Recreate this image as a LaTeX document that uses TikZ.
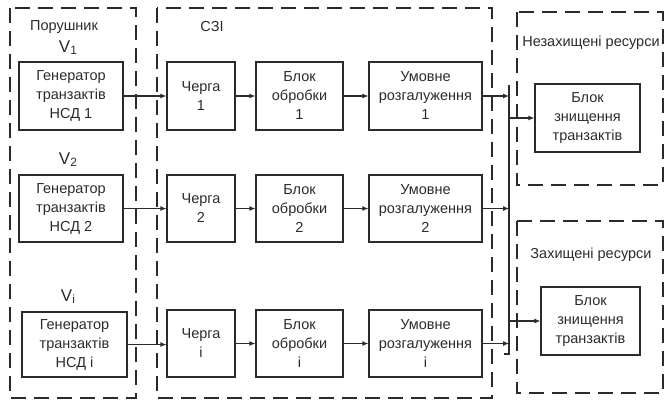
\documentclass[tikz,border=0pt]{standalone}
\usepackage{fontspec}
\setmainfont{Liberation Sans}
\usetikzlibrary{arrows.meta}
\definecolor{ink}{HTML}{2B2B2B}
\begin{document}
\begin{tikzpicture}[x=1pt,y=-1pt,
  every node/.style={font=\fontsize{14.5}{19}\selectfont, text=ink},
  blk/.style={draw=ink, line width=1.1pt, rectangle, align=center, inner sep=0pt},
  grp/.style={draw=ink, line width=1.1pt, dash pattern=on 15pt off 8pt},
  arr/.style={draw=ink, line width=1.1pt, -{Latex[length=6pt,width=5pt]}},
  ln/.style={draw=ink, line width=1.1pt},
  vlab/.style={font=\fontsize{17}{19}\selectfont}
]
\useasboundingbox (0,0) rectangle (667,400);
% group frames
\draw[grp] (10,8) rectangle (136,398);
\draw[grp] (157,8) rectangle (492,398);
\draw[grp] (517,12) rectangle (663,185);
\draw[grp] (517,221) rectangle (663,393);
% labels
\node (lp) at (64,27) {Порушник};
\node[vlab] (lv1) at (68,48) {V\raisebox{-0.2ex}{\fontsize{12}{12}\selectfont 1}};
\node[vlab] (lv2) at (68,160) {V\raisebox{-0.2ex}{\fontsize{12}{12}\selectfont 2}};
\node[vlab] (lvi) at (68,297) {V\raisebox{-0.2ex}{\fontsize{12}{12}\selectfont i}};
\node (ls) at (212,27) {СЗІ};
\node (ln1) at (591,43) {Незахищені ресурси};
\node (ln2) at (591,255) {Захищені ресурси};
% row 1
\node[blk, minimum width=104pt, minimum height=68pt] (g1) at (71,96) {Генератор\\транзактів\\НСД 1};
\node[blk, minimum width=68pt, minimum height=68pt] (q1) at (201,96) {Черга\\1};
\node[blk, minimum width=87pt, minimum height=68pt] (b1) at (299.5,96) {Блок\\обробки\\1};
\node[blk, minimum width=113pt, minimum height=68pt] (u1) at (425.5,96) {Умовне\\розгалуження\\1};
% row 2
\node[blk, minimum width=104pt, minimum height=67pt] (g2) at (71,208.5) {Генератор\\транзактів\\НСД 2};
\node[blk, minimum width=68pt, minimum height=67pt] (q2) at (201,208.5) {Черга\\2};
\node[blk, minimum width=87pt, minimum height=67pt] (b2) at (299.5,208.5) {Блок\\обробки\\2};
\node[blk, minimum width=113pt, minimum height=67pt] (u2) at (425.5,208.5) {Умовне\\розгалуження\\2};
% row i
\node[blk, minimum width=105pt, minimum height=65pt] (gi) at (74.5,344.5) {Генератор\\транзактів\\НСД і};
\node[blk, minimum width=68pt, minimum height=67pt] (qi) at (201,343.5) {Черга\\і};
\node[blk, minimum width=87pt, minimum height=67pt] (bi) at (299.5,343.5) {Блок\\обробки\\і};
\node[blk, minimum width=113pt, minimum height=67pt] (ui) at (425.5,343.5) {Умовне\\розгалуження\\і};
% destroy blocks
\node[blk, minimum width=105pt, minimum height=68pt] (d1) at (587.5,118) {Блок\\знищення\\транзактів};
\node[blk, minimum width=99pt, minimum height=68pt] (d2) at (590.5,321) {Блок\\знищення\\транзактів};
% bus
\coordinate (bt) at (509,85);
\coordinate (bb) at (509,354);
\coordinate (bk) at (504,354);
\draw[ln] (bt) -- (bb) -- (bk);
% arrows
\draw[arr] (g1.east) -- (q1.west);
\draw[arr] (q1.east) -- (b1.west);
\draw[arr] (b1.east) -- (u1.west);
\draw[arr] (g2.east) -- (g2.east -| q2.west);
\draw[arr] (q2.east) -- (b2.west);
\draw[arr] (b2.east) -- (u2.west);
\draw[arr] (gi.east) -- (gi.east -| qi.west);
\draw[arr] (qi.east) -- (bi.west);
\draw[arr] (bi.east) -- (ui.west);
\draw[arr] (u1.east) -- (u1.east -| bt);
\draw[arr] (u2.east) -- (u2.east -| bt);
\draw[arr] (ui.east) -- (ui.east -| bt);
\draw[arr] (d1.west -| bt) -- (d1.west);
\draw[arr] (d2.west -| bt) -- (d2.west);
\end{tikzpicture}
\end{document}
